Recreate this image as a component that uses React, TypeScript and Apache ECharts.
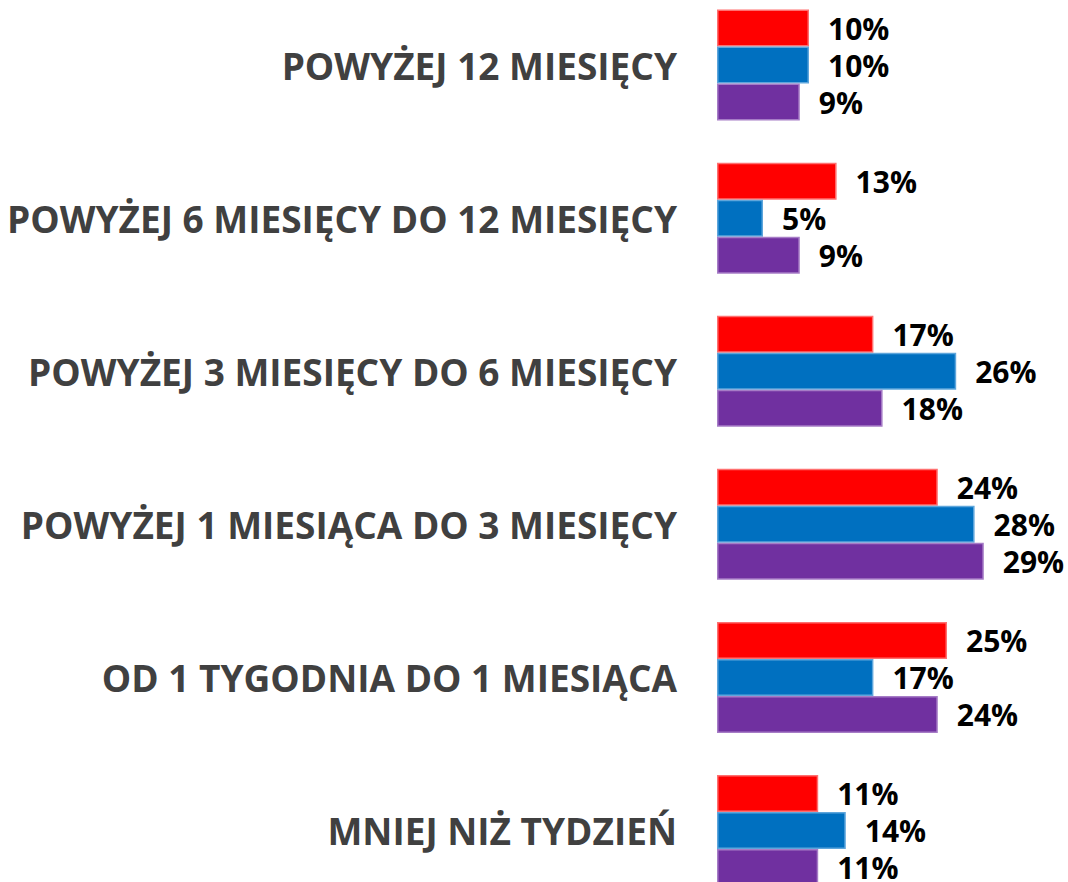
import React, { useEffect, useRef } from "react";
import * as echarts from "echarts";

const categories = [
  "POWYŻEJ 12 MIESIĘCY",
  "POWYŻEJ 6 MIESIĘCY DO 12 MIESIĘCY",
  "POWYŻEJ 3 MIESIĘCY DO 6 MIESIĘCY",
  "POWYŻEJ 1 MIESIĄCA DO 3 MIESIĘCY",
  "OD 1 TYGODNIA DO 1 MIESIĄCA",
  "MNIEJ NIŻ TYDZIEŃ",
];
const redValues = [10, 13, 17, 24, 25, 11];
const blueValues = [10, 5, 26, 28, 17, 14];
const purpleValues = [9, 9, 18, 29, 24, 11];

const FONT = "'Open Sans', 'Noto Sans', sans-serif";

export default function App() {
  const ref = useRef<HTMLDivElement>(null);
  useEffect(() => {
    if (!ref.current) return;
    const chart = echarts.init(ref.current, null, { renderer: "svg" });
    const mk = (name: string, data: number[], color: string, border: string) => ({
      name,
      type: "bar",
      data,
      barWidth: 37,
      barGap: "0%",
      itemStyle: { color, borderColor: border, borderWidth: 1.5 },
      label: {
        show: true,
        position: "right",
        distance: 19,
        formatter: "{c}%",
        color: "#000000",
        fontFamily: FONT,
        fontWeight: "bold",
        fontSize: 30,
      },
    });
    chart.setOption({
      animation: false,
      backgroundColor: "#ffffff",
      grid: { left: 717, top: 0.5, width: 276, height: 918.6, containLabel: false },
      xAxis: {
        type: "value",
        min: 0,
        max: 30,
        show: false,
      },
      yAxis: {
        type: "category",
        data: categories,
        inverse: true,
        axisLine: { show: false },
        axisTick: { show: false },
        splitLine: { show: false },
        axisLabel: {
          margin: 40,
          color: "#404040",
          fontFamily: FONT,
          fontWeight: "bold",
          fontSize: 37,
        },
      },
      series: [
        mk("A", redValues, "#ff0000", "#ff7070"),
        mk("B", blueValues, "#0070c0", "#5ea6dc"),
        mk("C", purpleValues, "#7030a0", "#a67cc6"),
      ],
    });
    return () => chart.dispose();
  }, []);
  return (
    <div
      ref={ref}
      style={{ position: "fixed", left: 0, top: -12, width: 1068, height: 920 }}
    />
  );
}
